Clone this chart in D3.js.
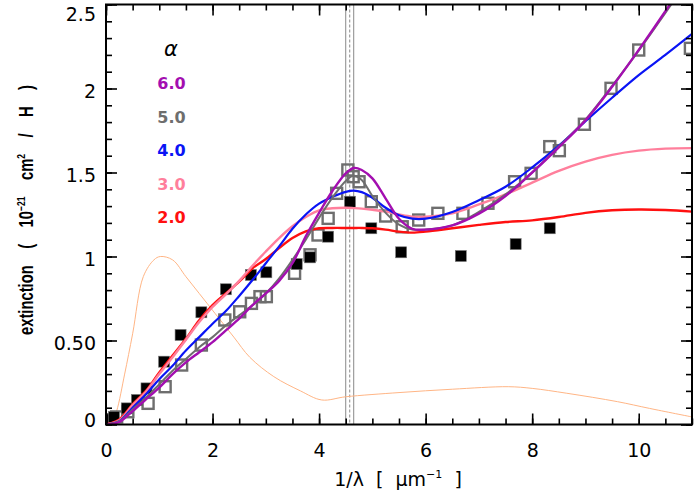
<!DOCTYPE html>
<html><head><meta charset="utf-8">
<script src="https://cdn.jsdelivr.net/npm/d3@7/dist/d3.min.js"></script>
<style>body{margin:0;background:#fff}</style>
</head><body><svg id="c" width="700" height="500"></svg>
<script>
// ---- data ----
const modelX = [0,0.25,0.5,0.75,1.0,1.25,1.5,1.75,2.0,2.25,2.5,2.75,3.0,3.25,3.5,3.75,4.0,4.25,4.5,4.65,4.8,5.0,5.25,5.5,5.75,6.0,6.5,7.0,7.5,8.0,8.5,9.0,9.5,10.0,10.5,11.0];
const alpha2 = [0,0.03,0.12,0.2,0.31,0.41,0.51,0.62,0.71,0.78,0.85,0.93,0.985,1.05,1.11,1.15,1.168,1.17,1.17,1.17,1.17,1.168,1.16,1.148,1.142,1.148,1.168,1.188,1.205,1.215,1.235,1.26,1.275,1.28,1.277,1.267];
const alpha3 = [0,0.025,0.115,0.195,0.30,0.40,0.505,0.61,0.70,0.775,0.855,0.945,1.03,1.11,1.18,1.235,1.275,1.287,1.29,1.288,1.285,1.278,1.267,1.25,1.237,1.237,1.257,1.31,1.37,1.44,1.51,1.565,1.605,1.63,1.642,1.645];
const alpha4 = [0,0.02,0.1,0.18,0.27,0.35,0.44,0.52,0.6,0.675,0.765,0.86,0.96,1.06,1.165,1.25,1.315,1.355,1.385,1.392,1.383,1.35,1.29,1.245,1.225,1.225,1.265,1.335,1.415,1.53,1.66,1.805,1.945,2.08,2.2,2.325];
const alpha5 = [0,0.02,0.09,0.16,0.24,0.32,0.39,0.46,0.52,0.59,0.65,0.71,0.78,0.87,0.98,1.1,1.23,1.35,1.45,1.48,1.455,1.36,1.26,1.19,1.16,1.16,1.185,1.265,1.37,1.5,1.655,1.815,2.015,2.225,2.45,2.68];
const alpha6 = [0,0.015,0.08,0.15,0.22,0.30,0.37,0.43,0.49,0.56,0.63,0.71,0.78,0.855,0.96,1.12,1.26,1.39,1.495,1.527,1.515,1.465,1.345,1.225,1.165,1.16,1.185,1.255,1.36,1.5,1.65,1.81,2.01,2.23,2.46,2.7];

const thinX = [0.1,0.2,0.35,0.5,0.7,0.9,1.02,1.25,1.5,1.75,2.05,2.4,2.7,3.15,3.65,4.05,4.5,5.5,6.5,7.55,8.0,8.65,9.6,10.2,11.0];
const thinY = [0.0,0.08,0.3,0.54,0.88,0.98,1.0,0.98,0.88,0.78,0.66,0.52,0.40,0.285,0.2,0.146,0.165,0.19,0.21,0.225,0.215,0.186,0.136,0.096,0.045];

const openX = [0.0,0.075,0.2,0.41,0.79,1.11,1.42,1.79,2.23,2.51,2.73,2.89,3.01,3.54,3.83,3.98,4.17,4.33,4.54,4.64,4.75,4.98,5.25,5.56,5.87,6.23,6.70,7.17,7.67,7.98,8.33,8.51,8.98,9.48,10.0,10.97];
const openY = [0.027,0.027,0.045,0.076,0.126,0.225,0.354,0.473,0.622,0.671,0.721,0.761,0.761,0.9,1.01,1.128,1.227,1.376,1.515,1.475,1.445,1.326,1.241,1.177,1.217,1.257,1.257,1.317,1.445,1.495,1.654,1.63,1.787,2.001,2.229,2.239];

const filledX = [0.02,0.15,0.39,0.58,0.76,1.09,1.40,1.79,2.25,2.72,3.01,3.58,3.83,4.17,4.58,4.98,5.54,6.66,7.69,8.33];
const filledY = [0.03,0.045,0.096,0.146,0.215,0.374,0.533,0.668,0.805,0.89,0.906,0.955,0.995,1.118,1.326,1.168,1.025,1.003,1.074,1.168];

const markerLines = [4.5,4.575,4.65];

const legendLabels = ["6.0","5.0","4.0","3.0","2.0"];
const legendColors = ["#a30fb0","#6e6e6e","#0a14f5","#ff7f9c","#ff1010"];

const xMajorTicks = [0,2,4,6,8,10];
const xTickLabels = ["0","2","4","6","8","10"];
const yMajorTicks = [0,0.5,1,1.5,2,2.5];
const yTickLabels = ["0","0.50","1","1.5","2","2.5"];

// ---- chart ----
const svg = d3.select("#c");
const L=106, R=692, T=4.5, B=424.5;
const x = d3.scaleLinear().domain([0,11]).range([L,R]);
const y = d3.scaleLinear().domain([0,2.5]).range([B,T]);

svg.append("defs").append("clipPath").attr("id","clip")
  .append("rect").attr("x",L).attr("y",T).attr("width",R-L).attr("height",B-T);
const plot = svg.append("g").attr("clip-path","url(#clip)");

const xMinor = d3.range(0,11.01,0.5);
const yMinor = d3.range(0,2.501,0.1).map(v=>+v.toFixed(2));

function drawAxis(axisFn, tr, vals, size, fmt, pad){
  const g = svg.append("g").attr("transform",tr)
    .call(axisFn.tickValues(vals).tickSize(size).tickPadding(pad||0).tickFormat(fmt||""));
  g.select(".domain").remove();
  g.selectAll("line").attr("stroke","#000").attr("stroke-width",1.6);
  return g;
}
// minor
drawAxis(d3.axisBottom(x), `translate(0,${B})`, xMinor, -6);
drawAxis(d3.axisTop(x), `translate(0,${T})`, xMinor, -6);
drawAxis(d3.axisLeft(y), `translate(${L},0)`, yMinor, -6);
drawAxis(d3.axisRight(y), `translate(${R},0)`, yMinor, -6);
// major
drawAxis(d3.axisTop(x), `translate(0,${T})`, xMajorTicks, -11);
drawAxis(d3.axisRight(y), `translate(${R},0)`, yMajorTicks, -11);
const gx = drawAxis(d3.axisBottom(x), `translate(0,${B})`, xMajorTicks, -11, (d,i)=>xTickLabels[i], 19);
const gy = drawAxis(d3.axisLeft(y), `translate(${L},0)`, yMajorTicks, -11, (d,i)=>yTickLabels[i], 10);
[gx,gy].forEach(g=>g.selectAll("text").attr("font-family","DejaVu Sans").attr("font-size",19).attr("fill","#000"));
gy.selectAll("text").attr("dy",null).attr("dominant-baseline","central")
  .attr("y",d=>Math.min(Math.max(y(d)+1.5,13.3),419)-y(d));

// marker vertical lines
plot.selectAll("line.vm").data(markerLines).join("line")
  .attr("x1",d=>x(d)).attr("x2",d=>x(d)).attr("y1",T).attr("y2",B)
  .attr("stroke","#8a8a8a").attr("stroke-width",1)
  .attr("stroke-dasharray",(d,i)=>i===1?"3,2":null);

// thin curve
const lineGen = d3.line().curve(d3.curveCatmullRom.alpha(0.5));
plot.append("path").attr("d",lineGen(thinX.map((v,i)=>[x(v),y(thinY[i])])))
  .attr("fill","none").attr("stroke","#ffb585").attr("stroke-width",1);

// open squares
const so = 11;
plot.selectAll("rect.o").data(openX).join("rect")
  .attr("x",(d)=>x(d)-so/2).attr("y",(d,i)=>y(openY[i])-so/2)
  .attr("width",so).attr("height",so)
  .attr("fill","none").attr("stroke","#6e6e6e").attr("stroke-width",2.4);

// filled squares
const sf = 11;
plot.selectAll("rect.f").data(filledX).join("rect")
  .attr("x",(d)=>x(d)-sf/2).attr("y",(d,i)=>y(filledY[i])-sf/2)
  .attr("width",sf).attr("height",sf)
  .attr("fill","#000").attr("stroke","#777").attr("stroke-width",0.6);

// model curves
const series = [alpha2, alpha3, alpha4, alpha5, alpha6];
const seriesColors = [legendColors[4],legendColors[3],legendColors[2],legendColors[1],legendColors[0]];
const seriesWidths = [2.4,2.4,2.2,2.0,2.4];
series.forEach((s,k)=>{
  plot.append("path").attr("d",lineGen(modelX.map((v,i)=>[x(v),y(s[i])])))
    .attr("fill","none").attr("stroke",seriesColors[k]).attr("stroke-width",seriesWidths[k]);
});

// frame
svg.append("rect").attr("x",L).attr("y",T).attr("width",R-L).attr("height",B-T)
  .attr("fill","none").attr("stroke","#000").attr("stroke-width",2);

// legend
svg.append("text").attr("x",171).attr("y",56).attr("text-anchor","middle")
  .attr("font-family","DejaVu Sans").attr("font-style","italic").attr("font-size",21).text("α");
const legY = [89,123,156,190,223];
svg.selectAll("text.leg").data(legendLabels).join("text")
  .attr("x",171.5).attr("y",(d,i)=>legY[i]).attr("text-anchor","middle")
  .attr("font-family","DejaVu Sans").attr("font-weight","bold").attr("font-size",16)
  .attr("fill",(d,i)=>legendColors[i]).text(d=>d);

// x label
const xl = svg.append("text").attr("x",398).attr("y",486).attr("text-anchor","middle")
  .attr("font-family","DejaVu Sans").attr("font-size",19);
xl.append("tspan").text("1/λ\u00a0\u00a0[\u00a0\u00a0μm");
xl.append("tspan").attr("font-size",11).attr("dy",-8).text("−1");
xl.append("tspan").attr("dy",8).text("\u00a0\u00a0]");

// y label
const sp = "\u00a0\u00a0\u00a0\u00a0";
const yl = svg.append("text").attr("transform","translate(33,210) rotate(-90) scale(0.74,1)")
  .attr("text-anchor","middle").attr("font-family","Liberation Sans").attr("font-weight","bold").attr("font-size",20);
yl.append("tspan").text("extinction" + sp + "(" + sp + "10");
yl.append("tspan").attr("font-size",11.5).attr("dy",-8).text("−21");
yl.append("tspan").attr("dy",8).text(sp + "cm");
yl.append("tspan").attr("font-size",11.5).attr("dy",-8).text("2");
yl.append("tspan").attr("dy",8).text(sp + "/" + sp + "H" + sp + ")");
</script>
</body></html>
